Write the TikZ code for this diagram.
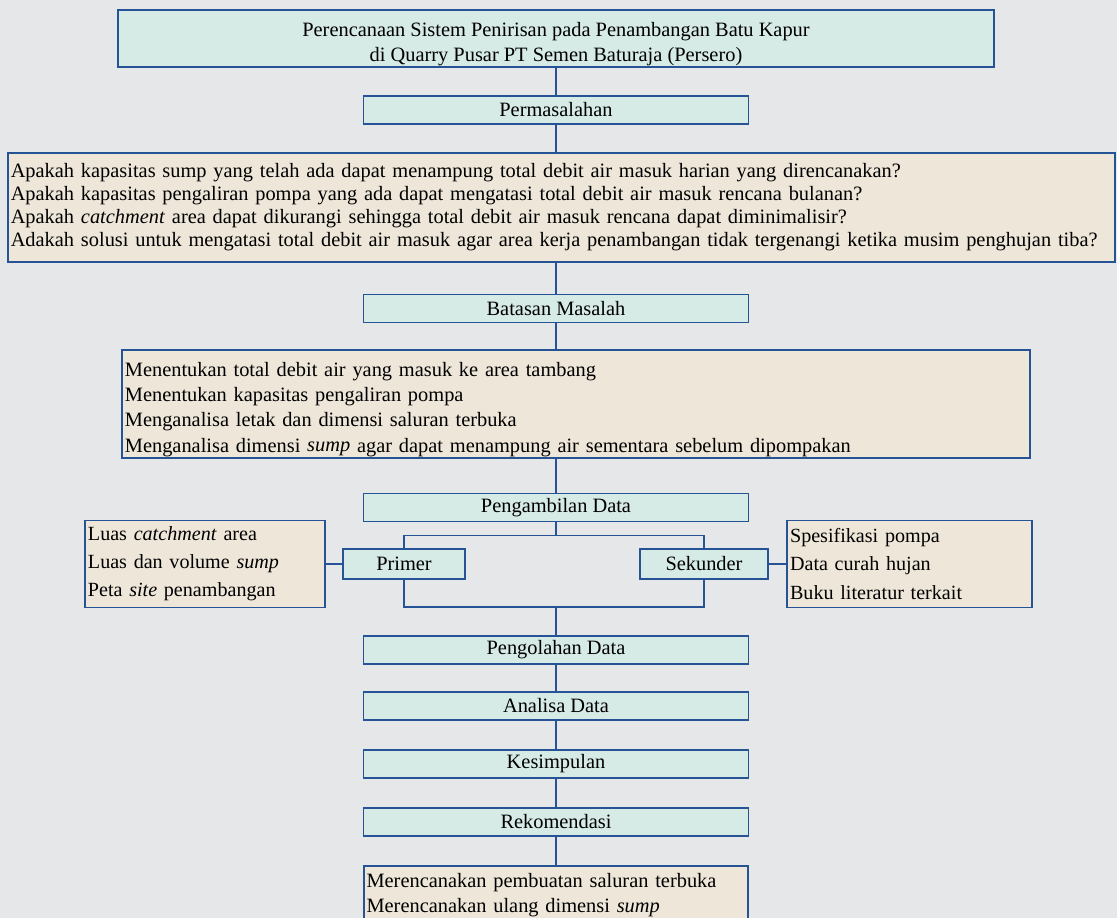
\documentclass[tikz,border=0pt]{standalone}
\usepackage{fontspec}
\setmainfont{Liberation Serif}
\usepackage{tikz}
\usetikzlibrary{positioning}
\definecolor{flowblue}{RGB}{38,82,150}
\definecolor{flowhead}{RGB}{214,234,230}
\definecolor{flowlist}{RGB}{237,230,217}
\definecolor{flowpaper}{RGB}{229,231,233}
\tikzset{
  %% ---- boxes ----
  head/.style    = {rectangle, draw=flowblue, line width=1.3pt,
                    fill=flowhead, minimum width=#1, minimum height=0.7cm,
                    inner sep=0pt, align=center,
                    font=\fontsize{14.5pt}{17.8pt}\selectfont},
  head/.default  = 9.625cm,
  listbox/.style = {rectangle, draw=flowblue, line width=1.3pt,
                    fill=flowlist, text width=#1, inner xsep=2pt,
                    inner ysep=3pt, align=left},
  %% ---- lines ----
  link/.style    = {draw=flowblue, line width=1.3pt},
}

\begin{document}
\begin{tikzpicture}[x=0.025cm, y=-0.025cm]
\useasboundingbox (0,0) rectangle (1117,918);
\clip (0,0) rectangle (1117,918);
\fill[flowpaper] (0,0) rectangle (1117,918);

\node[head=21.875cm, minimum height=1.425cm] (judul) at (556,38.5)
  {\rule{0pt}{17.5pt}Perencanaan Sistem Penirisan pada Penambangan Batu Kapur\\
   di Quarry Pusar PT Semen Baturaja (Persero)};
\node[head] (masalah) at (556,110) {Permasalahan};
\node[listbox=27.53cm, minimum height=2.725cm,
      font=\fontsize{14.5pt}{16.4pt}\selectfont] (soal) at (561.5,207.5)
  {Apakah kapasitas sump yang telah ada dapat menampung total debit air masuk harian yang direncanakan?\\
   Apakah kapasitas pengaliran pompa yang ada dapat mengatasi total debit air masuk rencana bulanan?\\
   Apakah \textit{catchment} area dapat dikurangi sehingga total debit air masuk rencana dapat diminimalisir?\\
   Adakah solusi untuk mengatasi total debit air masuk agar area kerja penambangan tidak tergenangi ketika musim penghujan tiba?};
\node[head] (batasan) at (556,308.5) {Batasan Masalah};
\node[listbox=22.55cm, minimum height=2.7cm, inner ysep=0.5pt,
      font=\fontsize{14.5pt}{17.8pt}\selectfont] (lingkup) at (576,404)
  {\rule{0pt}{18pt}Menentukan total debit air yang masuk ke area tambang\\
   Menentukan kapasitas pengaliran pompa\\
   Menganalisa letak dan dimensi saluran terbuka\\
   Menganalisa dimensi \textit{sump} agar dapat menampung air sementara sebelum dipompakan};
\node[head] (ambil) at (556,507.5) {Pengambilan Data};

\node[head=3.05cm, minimum height=0.75cm] (primer) at (404,564) {Primer};
\node[head=3.2cm, minimum height=0.75cm] (sekunder) at (704,564) {Sekunder};
\node[listbox=5.85cm, minimum height=2.175cm,
      font=\fontsize{14.3pt}{20pt}\selectfont] (datap) at (205,564)
  {Luas \textit{catchment} area\\
   Luas dan volume \textit{sump}\\
   Peta \textit{site} penambangan};
\node[listbox=5.97cm, minimum height=2.175cm,
      font=\fontsize{14.3pt}{20pt}\selectfont] (datas) at (909.5,564)
  {Spesifikasi pompa\\
   Data curah hujan\\
   Buku literatur terkait};

\node[head] (olah) at (556,650) {Pengolahan Data};
\node[head] (analisa) at (556,706) {Analisa Data};
\node[head] (simpul) at (556,764) {Kesimpulan};
\node[head] (rekom) at (556,822) {Rekomendasi};
\node[listbox=9.47cm, anchor=north, inner ysep=5.5pt,
      font=\fontsize{14.5pt}{17.8pt}\selectfont] (saran) at (556,865)
  {Merencanakan pembuatan saluran terbuka\\
   Merencanakan ulang dimensi \textit{sump}};

\draw[link] (judul.south) -- (masalah.north);
\draw[link] (masalah.south) -- (masalah.south |- soal.north);
\draw[link] (batasan.north |- soal.south) -- (batasan.north);
\draw[link] (batasan.south) -- (batasan.south |- lingkup.north);
\draw[link] (ambil.north |- lingkup.south) -- (ambil.north);
\draw[link] (ambil.south) -- ++(0,13) coordinate (cabang) -| (primer.north);
\draw[link] (cabang) -| (sekunder.north);
\draw[link] (datap.east) -- (primer.west);
\draw[link] (sekunder.east) -- (datas.west);
\draw[link] (primer.south) -- ++(0,27) coordinate (gabung) -| (sekunder.south);
\draw[link] (olah.north |- gabung) -- (olah.north);
\draw[link] (olah.south) -- (analisa.north);
\draw[link] (analisa.south) -- (simpul.north);
\draw[link] (simpul.south) -- (rekom.north);
\draw[link] (rekom.south) -- (saran.north);
\end{tikzpicture}
\end{document}
